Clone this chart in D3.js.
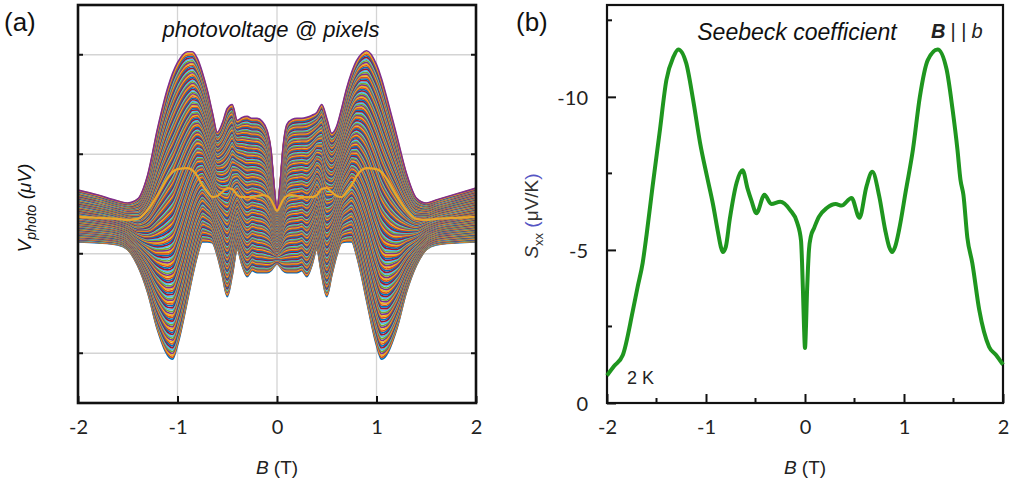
<!DOCTYPE html>
<html>
<head>
<meta charset="utf-8">
<script src="https://cdn.jsdelivr.net/npm/d3@7"></script>
<style>
  body { margin: 0; background: #fff; }
  text { font-family: "Liberation Sans", Arial, sans-serif; }
  .tick text { font-family: Lato, "Open Sans", sans-serif; font-size: 20px; fill: #222; }
</style>
</head>
<body>
<svg id="fig" width="1010" height="483"></svg>
<script>
// ---- panel (a): photovoltage envelopes, B in tesla, V in grid units
const bA = [-2,-1.8,-1.6,-1.5,-1.4,-1.3,-1.2,-1.1,-1.05,-1,-0.9,-0.85,-0.8,-0.75,-0.7,-0.65,-0.6,-0.55,-0.5,-0.45,-0.4,-0.35,-0.3,-0.25,-0.2,-0.15,-0.1,-0.06,-0.03,
  0,
  0.03,0.06,0.1,0.15,0.2,0.25,0.3,0.35,0.4,0.45,0.5,0.55,0.6,0.65,0.7,0.75,0.8,0.85,0.9,1,1.05,1.1,1.2,1.3,1.4,1.5,1.6,1.8,2]
const upperA = [-0.36,-0.41,-0.47,-0.49,-0.45,-0.21,0.26,0.66,0.81,0.92,1.03,1.03,0.96,0.82,0.64,0.42,0.22,0.31,0.46,0.50,0.34,0.37,0.38,0.36,0.36,0.33,0.24,0.04,-0.31,
  -0.56,
  -0.31,0.06,0.30,0.35,0.36,0.36,0.37,0.39,0.42,0.50,0.36,0.21,0.28,0.46,0.66,0.82,0.94,1.01,1.04,0.90,0.76,0.58,0.20,-0.19,-0.44,-0.49,-0.46,-0.40,-0.34]
const lowerA = [-0.88,-0.89,-0.91,-0.96,-1.12,-1.39,-1.77,-2.02,-2.06,-1.92,-1.47,-1.23,-1.02,-0.88,-0.88,-0.89,-1.02,-1.22,-1.43,-1.22,-0.96,-1.12,-1.23,-1.17,-1.19,-1.19,-1.19,-1.17,-1.13,
  -1.10,
  -1.13,-1.17,-1.19,-1.19,-1.19,-1.17,-1.23,-1.12,-0.96,-1.22,-1.43,-1.22,-1.02,-0.89,-0.88,-0.88,-1.02,-1.23,-1.47,-1.92,-2.06,-2.02,-1.77,-1.39,-1.12,-0.96,-0.91,-0.89,-0.88]
const midA = [-0.63,-0.64,-0.65,-0.66,-0.65,-0.56,-0.41,-0.24,-0.18,-0.15,-0.14,-0.16,-0.22,-0.31,-0.38,-0.43,-0.42,-0.38,-0.34,-0.35,-0.41,-0.43,-0.43,-0.43,-0.42,-0.41,-0.42,-0.46,-0.52,
  -0.57,
  -0.52,-0.46,-0.42,-0.41,-0.42,-0.43,-0.43,-0.43,-0.41,-0.35,-0.34,-0.38,-0.42,-0.43,-0.38,-0.31,-0.22,-0.16,-0.14,-0.15,-0.18,-0.24,-0.41,-0.56,-0.65,-0.66,-0.65,-0.64,-0.63]
const pixelCount = 150
const pixelColors = ['#0072BD','#D95319','#EDB120','#7E2F8E','#77AC30','#4DBEEE','#A2142F']

// ---- panel (b): Seebeck coefficient
const bB = [-2,-1.93,-1.84,-1.74,-1.69,-1.64,-1.6,-1.54,-1.47,-1.4,-1.33,-1.28,-1.2,-1.13,-1.06,-0.99,-0.93,-0.88,-0.85,-0.83,
  -0.8,-0.76,-0.69,-0.63,-0.58,-0.54,-0.49,-0.41,-0.34,-0.25,-0.15,-0.08,-0.04,-0.03,-0.02,-0.01,
  0,0.01,0.02,0.03,0.04,0.06,0.09,0.14,0.22,0.31,0.37,0.47,0.55,0.62,0.68,0.75,0.81,0.85,0.88,0.91,
  0.95,1.02,1.09,1.16,1.24,1.34,1.43,1.49,1.54,1.57,1.6,1.64,1.69,1.76,1.86,1.93,2]
const sB = [-0.9,-1.2,-1.57,-3.0,-3.8,-4.57,-5.5,-7.06,-8.8,-10.55,-11.3,-11.55,-11.1,-9.9,-8.5,-7.4,-6.5,-5.6,-5.1,-4.93,
  -5.1,-6.0,-7.2,-7.6,-7.0,-6.6,-6.2,-6.8,-6.5,-6.57,-6.3,-5.9,-5.3,-4.6,-3.6,-2.5,
  -1.8,-2.5,-3.6,-4.4,-5.0,-5.45,-5.7,-6.08,-6.37,-6.5,-6.45,-6.7,-6.05,-7.06,-7.55,-6.75,-5.65,-5.1,-4.93,-5.1,
  -5.65,-6.96,-8.27,-10.0,-11.2,-11.55,-10.9,-9.6,-8.27,-7.3,-6.8,-5.4,-4.57,-3.04,-1.83,-1.57,-1.25]

const xTicks = [-2,-1,0,1,2]
const yTicksA = [-2,-1,0,1]
const yTicksB = [0,-5,-10]
const yMinorB = [-2.5,-7.5,-12.5]
const xMinorB = [-1.5,-0.5,0.5,1.5]

var svg = d3.select('#fig')
svg.append('rect').attr('width', 1010).attr('height', 483).attr('fill', '#fff')
var plain = d => String(d)   // hyphen minus, like the original

// ================= panel (a)
var ax = {left: 78, right: 476, top: 5, bottom: 403}
var xA = d3.scaleLinear().domain([-2, 2]).range([ax.left, ax.right])
var yA = d3.scaleLinear().domain([-2.5, 1.5]).range([ax.bottom, ax.top])
var gA = svg.append('g')

svg.append('clipPath').attr('id', 'clipA').append('rect')
  .attr('x', ax.left).attr('y', ax.top)
  .attr('width', ax.right - ax.left).attr('height', ax.bottom - ax.top)

// grid
gA.selectAll('.vg').data([-1, 0, 1]).enter().append('line')
  .attr('x1', d => xA(d)).attr('x2', d => xA(d))
  .attr('y1', ax.top).attr('y2', ax.bottom)
  .attr('stroke', '#d4d4d4').attr('stroke-width', 1.3)
gA.selectAll('.hg').data(yTicksA).enter().append('line')
  .attr('x1', ax.left).attr('x2', ax.right)
  .attr('y1', d => yA(d)).attr('y2', d => yA(d))
  .attr('stroke', '#d4d4d4').attr('stroke-width', 1.3)

// family of pixel curves, blended between lower and upper envelope
var lineA = d3.line()
  .curve(d3.curveMonotoneX)
  .x((d, i) => xA(bA[i]))
  .y(d => yA(d))
var fam = gA.append('g').attr('clip-path', 'url(#clipA)')
for (var k = 0; k <= pixelCount; k++) {
  var t = k / pixelCount
  var vals = lowerA.map((lo, i) => lo + t * (upperA[i] - lo))
  fam.append('path')
    .attr('d', lineA(vals))
    .attr('fill', 'none')
    .attr('stroke', pixelColors[k % pixelColors.length])
    .attr('stroke-width', 1.7)
}
fam.append('path')
  .attr('d', lineA(midA))
  .attr('fill', 'none')
  .attr('stroke', '#E9A62A')
  .attr('stroke-width', 2.2)

// frame + ticks
gA.append('rect')
  .attr('x', ax.left).attr('y', ax.top)
  .attr('width', ax.right - ax.left).attr('height', ax.bottom - ax.top)
  .attr('fill', 'none').attr('stroke', '#111').attr('stroke-width', 2.6)
gA.selectAll('.lt').data(yTicksA).enter().append('line')
  .attr('x1', ax.left).attr('x2', ax.left + 5)
  .attr('y1', d => yA(d)).attr('y2', d => yA(d))
  .attr('stroke', '#111').attr('stroke-width', 2)
gA.selectAll('.rt').data(yTicksA).enter().append('line')
  .attr('x1', ax.right - 5).attr('x2', ax.right)
  .attr('y1', d => yA(d)).attr('y2', d => yA(d))
  .attr('stroke', '#111').attr('stroke-width', 2)

var xAxisA = d3.axisBottom(xA).tickValues(xTicks).tickSize(-7).tickPadding(17)
  .tickFormat(plain)
gA.append('g').attr('transform', 'translate(0,' + ax.bottom + ')').call(xAxisA)
  .call(g => g.select('.domain').remove())
  .call(g => g.selectAll('.tick line').attr('stroke', '#111').attr('stroke-width', 2))

// texts (a)
svg.append('text').attr('x', 4).attr('y', 31).attr('font-size', 26).attr('fill', '#111').text('(a)')
svg.append('text').attr('x', 271).attr('y', 37).attr('text-anchor', 'middle')
  .attr('font-size', 22).attr('font-style', 'italic').attr('fill', '#111').text('photovoltage @ pixels')
var yl = svg.append('text').attr('transform', 'translate(31,208) rotate(-90)')
  .attr('text-anchor', 'middle').attr('font-size', 19).attr('font-style', 'italic')
  .attr('font-family', 'Lato, sans-serif').attr('fill', '#111')
yl.append('tspan').text('V')
yl.append('tspan').attr('font-size', 14).attr('dy', 5).text('photo')
yl.append('tspan').attr('dy', -5).text(' (μV)')
var xlA = svg.append('text').attr('x', xA(0)).attr('y', 474).attr('text-anchor', 'middle')
  .attr('font-size', 19).attr('font-family', 'Lato, sans-serif').attr('fill', '#222')
xlA.append('tspan').attr('font-style', 'italic').text('B')
xlA.append('tspan').text(' (T)')

// ================= panel (b)
var bx = {left: 607, right: 1003, top: 5, bottom: 403}
var xB = d3.scaleLinear().domain([-2, 2]).range([bx.left, bx.right])
var yB = d3.scaleLinear().domain([0, -13]).range([bx.bottom, bx.top])
var gB = svg.append('g')

gB.append('rect')
  .attr('x', bx.left).attr('y', bx.top)
  .attr('width', bx.right - bx.left).attr('height', bx.bottom - bx.top)
  .attr('fill', 'none').attr('stroke', '#111').attr('stroke-width', 2.2)

var xAxisB = d3.axisBottom(xB).tickValues(xTicks).tickSize(-9).tickPadding(17)
  .tickFormat(plain)
gB.append('g').attr('transform', 'translate(0,' + bx.bottom + ')').call(xAxisB)
  .call(g => g.select('.domain').remove())
  .call(g => g.selectAll('.tick line').attr('stroke', '#111').attr('stroke-width', 2))
gB.selectAll('.xm').data(xMinorB).enter().append('line')
  .attr('x1', d => xB(d)).attr('x2', d => xB(d))
  .attr('y1', bx.bottom).attr('y2', bx.bottom - 5)
  .attr('stroke', '#111').attr('stroke-width', 2)

var yAxisB = d3.axisLeft(yB).tickValues(yTicksB).tickSize(-9).tickPadding(19)
  .tickFormat(plain)
gB.append('g').attr('transform', 'translate(' + bx.left + ',0)').call(yAxisB)
  .call(g => g.select('.domain').remove())
  .call(g => g.selectAll('.tick line').attr('stroke', '#111').attr('stroke-width', 2))
  .call(g => g.selectAll('.tick text').attr('dy', '0.36em'))
gB.selectAll('.ym').data(yMinorB).enter().append('line')
  .attr('x1', bx.left).attr('x2', bx.left + 5)
  .attr('y1', d => yB(d)).attr('y2', d => yB(d))
  .attr('stroke', '#111').attr('stroke-width', 2)

var lineB = d3.line()
  .curve(d3.curveMonotoneX)
  .x((d, i) => xB(bB[i]))
  .y(d => yB(d))
gB.append('path')
  .attr('d', lineB(sB))
  .attr('fill', 'none')
  .attr('stroke', '#1f961f')
  .attr('stroke-width', 4)
  .attr('stroke-linejoin', 'round')

// texts (b)
svg.append('text').attr('x', 516).attr('y', 31).attr('font-size', 26).attr('fill', '#111').text('(b)')
svg.append('text').attr('x', 797).attr('y', 40).attr('text-anchor', 'middle')
  .attr('font-size', 23).attr('font-style', 'italic').attr('fill', '#111').text('Seebeck coefficient')
var bl = svg.append('text').attr('x', 931).attr('y', 38).attr('font-size', 20).attr('fill', '#222')
bl.append('tspan').attr('font-weight', 'bold').attr('font-style', 'italic').text('B')
bl.append('tspan').attr('dx', 5).text('| |')
bl.append('tspan').attr('dx', 5).attr('font-style', 'italic').text('b')
svg.append('text').attr('x', 627).attr('y', 384).attr('font-size', 18)
  .attr('font-family', 'Lato, sans-serif').attr('fill', '#222').text('2 K')

var ylB = svg.append('text').attr('transform', 'translate(538,216) rotate(-90)')
  .attr('text-anchor', 'middle').attr('font-size', 19)
  .attr('font-family', 'Lato, sans-serif').attr('fill', '#333')
ylB.append('tspan').attr('font-style', 'italic').text('S')
ylB.append('tspan').attr('font-size', 13).attr('dy', 5).text('xx')
ylB.append('tspan').attr('dy', -5).attr('fill', '#5555c4').text(' (')
ylB.append('tspan').text('μV/K')
ylB.append('tspan').attr('fill', '#5555c4').text(')')
var xlB = svg.append('text').attr('x', xB(0)).attr('y', 474).attr('text-anchor', 'middle')
  .attr('font-size', 19).attr('font-family', 'Lato, sans-serif').attr('fill', '#222')
xlB.append('tspan').attr('font-style', 'italic').text('B')
xlB.append('tspan').text(' (T)')
</script>
</body>
</html>
